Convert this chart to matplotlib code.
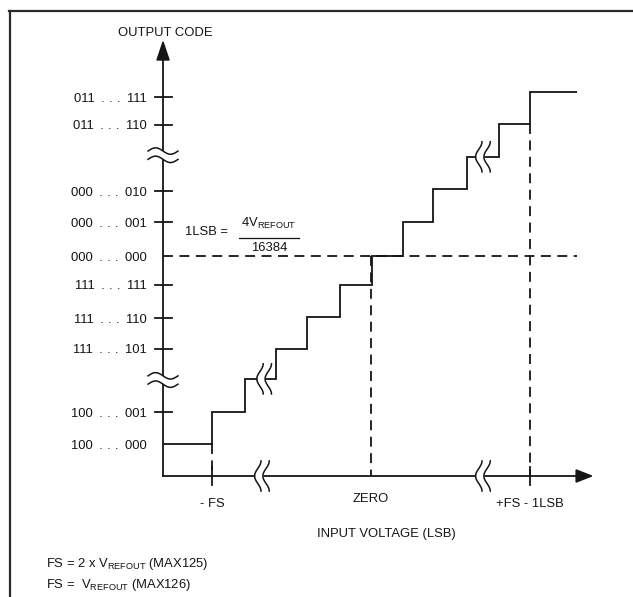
import numpy as np
import matplotlib
matplotlib.use('Agg')
import matplotlib.pyplot as plt
from matplotlib.lines import Line2D

plt.rcParams['font.family'] = ['Liberation Sans', 'DejaVu Sans']
plt.rcParams['mathtext.fontset'] = 'custom'
plt.rcParams['mathtext.rm'] = 'Liberation Sans'
plt.rcParams['mathtext.it'] = 'Liberation Sans:italic'
plt.rcParams['mathtext.bf'] = 'Liberation Sans:bold'

SP = '\u2002'  # en space around the dots
SP3 = '\u2004'  # three-per-em space between the dots


def code(a, b):
    return a + SP + SP3.join('...') + SP + b


# output codes on the vertical axis (in LSB units, 000...000 = 0)
code_labels = [code('011', '111'), code('011', '110'), code('000', '010'), code('000', '001'),
               code('000', '000'), code('111', '111'), code('111', '110'), code('111', '101'),
               code('100', '001'), code('100', '000')]
code_levels = [4.97, 4.1, 2.03, 1.06, 0.0, -0.9, -1.94, -2.9, -4.875, -5.875]
code_ticks = [True, True, True, True, False, True, True, True, True, False]

# transfer function staircase (edges in LSB of input, levels in codes)
step_edges = [-6.54, -5.0, -3.96, -2.99, -2.01, -0.97, 0.03, 1.0, 1.95, 3.02, 4.03, 5.0, 6.48]
step_levels = [-5.875, -4.875, -3.84, -2.9, -1.9, -0.9, 0.0, 1.06, 2.1, 3.1, 4.125, 5.125]

# input voltage marks
input_labels = ['- FS', 'ZERO', '+FS - 1LSB']
input_pos = [-5.0, 0.0, 5.0]
input_from = [-5.875, 0.0, 4.125]

# axis breaks
ybreaks = [3.15, -3.875]
xbreaks = [-3.43, 3.52]
step_breaks = [(-3.36, -3.84), (3.52, 3.1)]

x_axis_y = -6.875
y_axis_x = -6.54
ink = '#151515'
lw = 1.3

fig = plt.figure(figsize=(6.33, 5.97), dpi=100)
ax = fig.add_axes([0, 0, 1, 1])
ax.set_xlim(-371 / 31.8, 262 / 31.8)
ax.set_ylim(-341 / 32, 256 / 32)
ax.axis('off')

# frame (top and left)
fig.add_artist(Line2D([10 / 633, 10 / 633], [0, 1 - 11 / 597], transform=fig.transFigure,
                      color='#2a2a2a', lw=1.6))
fig.add_artist(Line2D([9 / 633, 1], [1 - 11 / 597, 1 - 11 / 597], transform=fig.transFigure,
                      color='#2a2a2a', lw=1.6))

# axes with arrows
ax.plot([y_axis_x, y_axis_x], [x_axis_y, 6.2], color=ink, lw=lw, zorder=2)
ax.plot([y_axis_x, 6.5], [x_axis_y, x_axis_y], color=ink, lw=lw, zorder=2)
ax.fill([y_axis_x - 0.19, y_axis_x + 0.19, y_axis_x], [6.125, 6.125, 6.69], color=ink, zorder=2)
ax.fill([6.45, 6.45, 6.94], [x_axis_y - 0.19, x_axis_y + 0.19, x_axis_y], color=ink, zorder=2)

# y ticks and labels
for lab, lev, tk in zip(code_labels, code_levels, code_ticks):
    if tk:
        ax.plot([-6.79, -6.26], [lev, lev], color=ink, lw=lw, zorder=2)
    ax.text(-7.04, lev - 0.145, lab, ha='right', va='baseline', fontsize=9.4, color=ink)

ax.text(-6.48, 6.885, 'OUTPUT CODE', ha='center', va='baseline', fontsize=9.4, color=ink)

# dashed guides
dash = (0, (5.5, 3.6))
ax.plot([y_axis_x, 6.48], [0, 0], color=ink, lw=1.3, ls=dash, zorder=1)
for xp, y0 in zip(input_pos, input_from):
    ax.plot([xp, xp], [y0, x_axis_y], color=ink, lw=1.3, ls=dash, zorder=1)
for xp in (input_pos[0], input_pos[2]):
    ax.plot([xp, xp], [x_axis_y - 0.28, x_axis_y + 0.28], color=ink, lw=lw, zorder=2)

# staircase
ax.stairs(step_levels, step_edges, baseline=None, color=ink, lw=lw, zorder=2)


def break_v(xc, yc):
    t = np.linspace(0, 2 * np.pi, 80)
    yy = yc + 0.47 * (1 - t / np.pi)
    xl = xc - 0.13 + 0.1 * np.cos(t)
    xr = xc + 0.13 + 0.1 * np.cos(t)
    ax.fill_betweenx(yy, xl, xr, color='white', lw=0, zorder=3)
    ax.plot(xl, yy, color=ink, lw=1.1, zorder=4)
    ax.plot(xr, yy, color=ink, lw=1.1, zorder=4)


def break_h(xc, yc):
    t = np.linspace(0, 2 * np.pi, 80)
    xx = xc + 0.47 * (t / np.pi - 1)
    yt = yc + 0.13 + 0.1 * np.sin(t)
    yb = yc - 0.13 + 0.1 * np.sin(t)
    ax.fill_between(xx, yb, yt, color='white', lw=0, zorder=3)
    ax.plot(xx, yt, color=ink, lw=1.1, zorder=4)
    ax.plot(xx, yb, color=ink, lw=1.1, zorder=4)


for yb in ybreaks:
    break_h(y_axis_x, yb)
for xb in xbreaks:
    break_v(xb, x_axis_y)
for xb, yb in step_breaks:
    break_v(xb, yb)

# x labels
ax.text(input_pos[0], -7.84, input_labels[0], ha='center', va='baseline', fontsize=9.4, color=ink)
ax.text(input_pos[1], -7.68, input_labels[1], ha='center', va='baseline', fontsize=9.4, color=ink)
ax.text(input_pos[2], -7.85, input_labels[2], ha='center', va='baseline', fontsize=9.4, color=ink)
ax.text(0.47, -8.77, 'INPUT VOLTAGE (LSB)', ha='center', va='baseline', fontsize=9.4, color=ink)

# 1LSB formula
ax.text(-5.85, 0.656, '1LSB =', ha='left', va='baseline', fontsize=9.4, color=ink)
ax.text(-3.21, 0.916, r'4$\mathrm{V_{REFOUT}}$', ha='center', va='baseline', fontsize=9.4, color=ink)
ax.plot([-4.15, -2.26], [0.578, 0.578], color=ink, lw=0.9)
ax.text(-3.21, 0.166, '16384', ha='center', va='baseline', fontsize=9.4, color=ink)

# footnotes
ax.text(-10.22, -9.71, r'FS = 2 x $\mathrm{V_{REFOUT}}$ (MAX125)', ha='left', va='baseline',
        fontsize=9.4, color=ink)
ax.text(-10.22, -10.36, r'FS =  $\mathrm{V_{REFOUT}}$ (MAX126)', ha='left', va='baseline',
        fontsize=9.4, color=ink)

fig.savefig('out.png', dpi=100)
